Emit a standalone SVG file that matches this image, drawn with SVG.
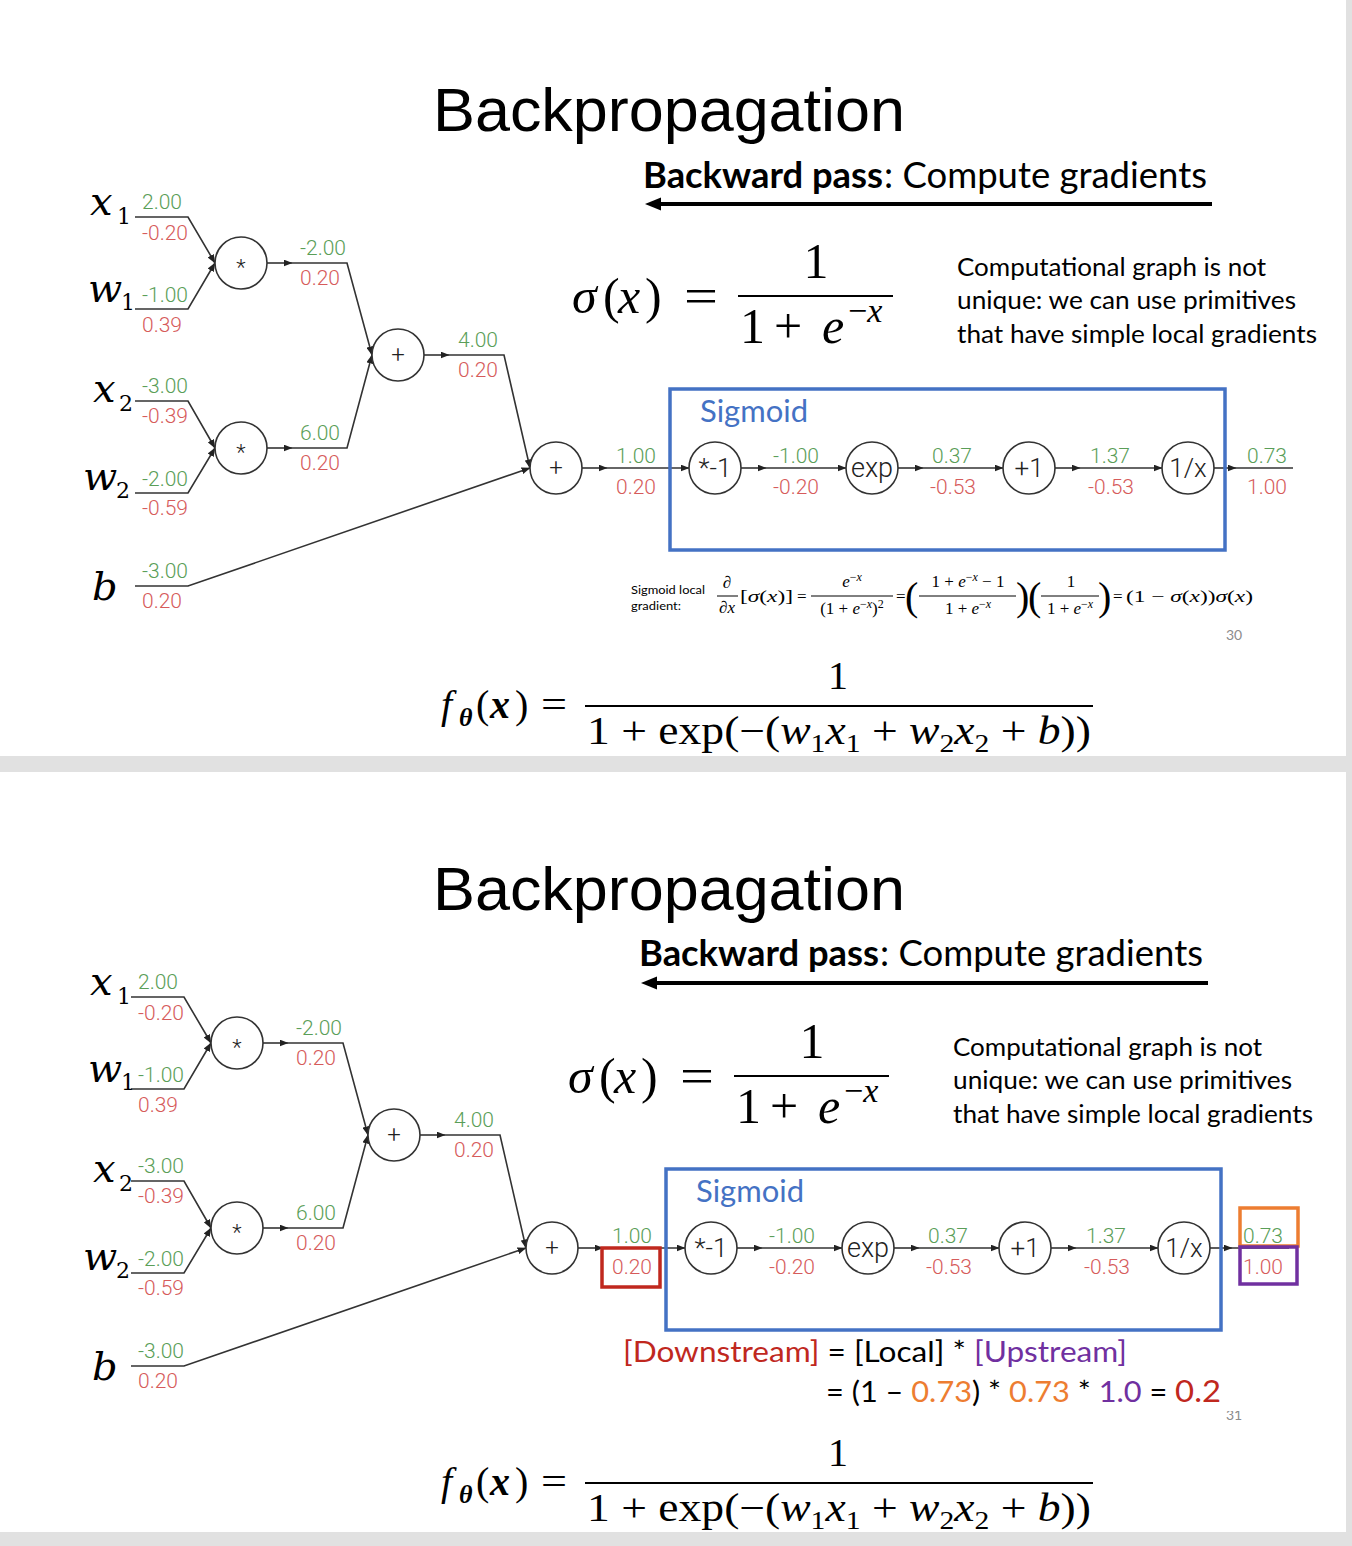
<svg xmlns="http://www.w3.org/2000/svg" width="1352" height="1546" viewBox="0 0 1352 1546">
<defs>
<style>
.edge{fill:none;stroke:#333;stroke-width:1.6}
.nc{fill:#fff;stroke:#333;stroke-width:1.6}
.nl{font-family:Roboto,"Liberation Sans",sans-serif;font-weight:300;fill:#222;text-anchor:middle}
.val{font-family:Roboto,"Liberation Sans",sans-serif;font-weight:300;font-size:21px}
.gr{fill:#5a9e58}
.rd{fill:#d65b5b}
.var{font-family:"DejaVu Serif",serif;font-style:italic;font-size:40px;fill:#000}
.sub{font-family:"DejaVu Serif",serif;font-style:normal;font-size:22px;fill:#000}
.title{font-family:"Liberation Sans",Arial,sans-serif;font-size:62px;fill:#000}
.cal{font-family:Lato,"Open Sans",sans-serif;fill:#000}
.cm{font-family:"Liberation Serif","DejaVu Serif",serif;fill:#000}
.it{font-style:italic}
.sig{fill:none;stroke:#4472c4;stroke-width:3.5}
.fr{stroke:#000;stroke-width:2}
.frs{stroke:#000;stroke-width:1}
</style>
<marker id="ah" markerUnits="userSpaceOnUse" markerWidth="9" markerHeight="7" refX="8.5" refY="3.5" orient="auto"><path d="M0,0 L9,3.5 L0,7 z" fill="#222"/></marker>
<clipPath id="clip31"><rect x="1215" y="1411" width="40" height="10"/></clipPath>
</defs>

<!-- background -->
<rect x="0" y="0" width="1352" height="1546" fill="#fff"/>
<rect x="1346" y="0" width="6" height="1546" fill="#e1e1e1"/>
<rect x="0" y="756" width="1352" height="16" fill="#e1e1e1"/>
<rect x="0" y="1532" width="1352" height="14" fill="#e1e1e1"/>

<!-- ================= TOP PANEL ================= -->
<g id="top-panel">
<text class="title" x="433" y="131" textLength="472" lengthAdjust="spacingAndGlyphs">Backpropagation</text>
<g id="t-backward">
<text class="cal" x="643" y="188" font-size="36" font-weight="bold" textLength="240" lengthAdjust="spacingAndGlyphs">Backward pass</text>
<text class="cal" x="884" y="188" font-size="36" textLength="323" lengthAdjust="spacingAndGlyphs">: Compute gradients</text>
<line x1="656" y1="204" x2="1212" y2="204" stroke="#000" stroke-width="4"/>
<path d="M645 204 L661 197.5 L661 210.5 Z" fill="#000"/>
</g>
<g id="t-sigma">
<text class="cm" y="313" font-size="50"><tspan x="572" class="it">σ</tspan><tspan x="603">(</tspan><tspan x="618" class="it">x</tspan><tspan x="645">)</tspan></text>
<text class="cm" x="684" y="313" font-size="50" textLength="34" lengthAdjust="spacingAndGlyphs">=</text>
<text class="cm" x="816" y="278" font-size="50" text-anchor="middle">1</text>
<line class="fr" x1="738" y1="296" x2="893" y2="296"/>
<text class="cm" y="343" font-size="50"><tspan x="740">1</tspan><tspan x="774">+</tspan><tspan x="822" class="it">e</tspan><tspan x="848" y="322" font-size="34">−</tspan><tspan class="it" font-size="34" y="322">x</tspan></text>
</g>
<g id="t-note" class="cal" font-size="25">
<text x="957" y="276" textLength="309" lengthAdjust="spacingAndGlyphs">Computational graph is not</text>
<text x="957" y="309" textLength="339" lengthAdjust="spacingAndGlyphs">unique: we can use primitives</text>
<text x="957" y="343" textLength="360" lengthAdjust="spacingAndGlyphs">that have simple local gradients</text>
</g>

<g id="t-labels">
<text class="var" x="90" y="215">x</text><text class="sub" x="117" y="224">1</text>
<text class="var" x="88" y="302">w</text><text class="sub" x="121" y="310">1</text>
<text class="var" x="93" y="402">x</text><text class="sub" x="119" y="411">2</text>
<text class="var" x="83" y="490">w</text><text class="sub" x="116" y="498">2</text>
<text class="var" x="92" y="600">b</text>
</g>

<g id="t-connectors">
<path class="edge" d="M135 217H188L215 263" marker-end="url(#ah)"/>
<path class="edge" d="M135 309H188L215 263" marker-end="url(#ah)"/>
<path class="edge" d="M267 263H292" marker-end="url(#ah)"/>
<path class="edge" d="M292 263H347L372 355" marker-end="url(#ah)"/>
<path class="edge" d="M135 401H188L215 448" marker-end="url(#ah)"/>
<path class="edge" d="M135 493H188L215 448" marker-end="url(#ah)"/>
<path class="edge" d="M267 448H292" marker-end="url(#ah)"/>
<path class="edge" d="M292 448H347L372 355" marker-end="url(#ah)"/>
<path class="edge" d="M424 355H449" marker-end="url(#ah)"/>
<path class="edge" d="M449 355H504L530 468" marker-end="url(#ah)"/>
<path class="edge" d="M135 586H188L530 468" marker-end="url(#ah)"/>
<path class="edge" d="M582 468H607" marker-end="url(#ah)"/>
<path class="edge" d="M607 468H689" marker-end="url(#ah)"/>
<path class="edge" d="M741 468H766" marker-end="url(#ah)"/>
<path class="edge" d="M766 468H846" marker-end="url(#ah)"/>
<path class="edge" d="M898 468H923" marker-end="url(#ah)"/>
<path class="edge" d="M923 468H1003" marker-end="url(#ah)"/>
<path class="edge" d="M1055 468H1080" marker-end="url(#ah)"/>
<path class="edge" d="M1080 468H1162" marker-end="url(#ah)"/>
<path class="edge" d="M1214 468H1236" marker-end="url(#ah)"/>
<path class="edge" d="M1236 468H1293"/>
</g>

<g id="t-sigmoid-box">
<rect class="sig" x="670" y="389" width="555" height="161"/>
<text class="cal" x="700" y="422" font-size="30" style="fill:#4472c4" textLength="108" lengthAdjust="spacingAndGlyphs">Sigmoid</text>
</g>

<g id="t-mul1"><circle class="nc" cx="241" cy="263" r="26"/><text class="nl" x="241" y="275" font-size="22">*</text></g>
<g id="t-mul2"><circle class="nc" cx="241" cy="448" r="26"/><text class="nl" x="241" y="460" font-size="22">*</text></g>
<g id="t-add1"><circle class="nc" cx="398" cy="355" r="26"/><text class="nl" x="398" y="363" font-size="24">+</text></g>
<g id="t-add2"><circle class="nc" cx="556" cy="468" r="26"/><text class="nl" x="556" y="476" font-size="24">+</text></g>
<g id="t-neg"><circle class="nc" cx="715" cy="468" r="26"/><text class="nl" x="715" y="477" font-size="26">*-1</text></g>
<g id="t-exp"><circle class="nc" cx="872" cy="468" r="26"/><text class="nl" x="872" y="477" font-size="27">exp</text></g>
<g id="t-plus1"><circle class="nc" cx="1029" cy="468" r="26"/><text class="nl" x="1029" y="477" font-size="26">+1</text></g>
<g id="t-inv"><circle class="nc" cx="1188" cy="468" r="26"/><text class="nl" x="1188" y="477" font-size="26">1/x</text></g>

<g id="t-values" class="val">
<text class="gr" x="142" y="209">2.00</text><text class="rd" x="142" y="240">-0.20</text>
<text class="gr" x="142" y="302">-1.00</text><text class="rd" x="142" y="332">0.39</text>
<text class="gr" x="142" y="393">-3.00</text><text class="rd" x="142" y="423">-0.39</text>
<text class="gr" x="142" y="486">-2.00</text><text class="rd" x="142" y="515">-0.59</text>
<text class="gr" x="142" y="578">-3.00</text><text class="rd" x="142" y="608">0.20</text>
<text class="gr" x="300" y="255">-2.00</text><text class="rd" x="300" y="285">0.20</text>
<text class="gr" x="300" y="440">6.00</text><text class="rd" x="300" y="470">0.20</text>
<text class="gr" x="458" y="347">4.00</text><text class="rd" x="458" y="377">0.20</text>
<text class="gr" x="616" y="463">1.00</text><text class="rd" x="616" y="494">0.20</text>
<text class="gr" x="773" y="463">-1.00</text><text class="rd" x="773" y="494">-0.20</text>
<text class="gr" x="932" y="463">0.37</text><text class="rd" x="930" y="494">-0.53</text>
<text class="gr" x="1090" y="463">1.37</text><text class="rd" x="1088" y="494">-0.53</text>
<text class="gr" x="1247" y="463">0.73</text><text class="rd" x="1247" y="494">1.00</text>
</g>

<g id="t-local-gradient">
<text class="cal" x="631" y="594" font-size="12" textLength="74" lengthAdjust="spacingAndGlyphs">Sigmoid local</text>
<text class="cal" x="631" y="610" font-size="12" textLength="50" lengthAdjust="spacingAndGlyphs">gradient:</text>
<g class="cm" font-size="17">
<text x="727" y="588" text-anchor="middle" class="it">∂</text>
<line class="frs" x1="717" y1="596" x2="738" y2="596"/>
<text x="727" y="613" text-anchor="middle" class="it">∂x</text>
<text x="740" y="602" textLength="53" lengthAdjust="spacingAndGlyphs">[<tspan class="it">σ</tspan>(<tspan class="it">x</tspan>)]</text>
<text x="797" y="602">=</text>
<text x="852" y="587" text-anchor="middle"><tspan class="it">e</tspan><tspan dy="-6" font-size="12">−</tspan><tspan class="it" font-size="12">x</tspan></text>
<line class="frs" x1="811" y1="596" x2="893" y2="596"/>
<text x="852" y="614" text-anchor="middle">(1 + <tspan class="it">e</tspan><tspan dy="-6" font-size="12">−</tspan><tspan class="it" font-size="12">x</tspan><tspan dy="6">)</tspan><tspan dy="-6" font-size="12">2</tspan></text>
<text x="896" y="602">=</text>
<text x="905" y="610" font-size="40">(</text>
<text x="968" y="587" text-anchor="middle">1 + <tspan class="it">e</tspan><tspan dy="-6" font-size="12">−</tspan><tspan class="it" font-size="12">x</tspan><tspan dy="6"> − 1</tspan></text>
<line class="frs" x1="919" y1="596" x2="1016" y2="596"/>
<text x="968" y="614" text-anchor="middle">1 + <tspan class="it">e</tspan><tspan dy="-6" font-size="12">−</tspan><tspan class="it" font-size="12">x</tspan></text>
<text x="1016" y="610" font-size="40">)</text>
<text x="1028" y="610" font-size="40">(</text>
<text x="1071" y="587" text-anchor="middle">1</text>
<line class="frs" x1="1041" y1="596" x2="1099" y2="596"/>
<text x="1070" y="614" text-anchor="middle">1 + <tspan class="it">e</tspan><tspan dy="-6" font-size="12">−</tspan><tspan class="it" font-size="12">x</tspan></text>
<text x="1098" y="610" font-size="40">)</text>
<text x="1113" y="602">=</text>
<text x="1126" y="602" textLength="127" lengthAdjust="spacingAndGlyphs">(1 − <tspan class="it">σ</tspan>(<tspan class="it">x</tspan>))<tspan class="it">σ</tspan>(<tspan class="it">x</tspan>)</text>
</g>
</g>
<text class="cal" x="1226" y="640" font-size="14" style="fill:#8c8c8c">30</text>

<g id="t-formula" class="cm" font-size="40">
<text y="718"><tspan x="441" class="it">f</tspan><tspan x="459" y="726" font-size="26" font-weight="bold" class="it">θ</tspan><tspan x="476" y="718">(</tspan><tspan x="490" font-weight="bold" class="it">x</tspan><tspan x="515">)</tspan></text>
<text x="541" y="718" textLength="26" lengthAdjust="spacingAndGlyphs">=</text>
<text x="838" y="689" text-anchor="middle">1</text>
<line class="fr" x1="585" y1="706" x2="1093" y2="706"/>
<text x="587" y="744" textLength="504" lengthAdjust="spacingAndGlyphs">1 + exp(−(<tspan class="it">w</tspan><tspan dy="8" font-size="26">1</tspan><tspan dy="-8" class="it">x</tspan><tspan dy="8" font-size="26">1</tspan><tspan dy="-8"> + </tspan><tspan class="it">w</tspan><tspan dy="8" font-size="26">2</tspan><tspan dy="-8" class="it">x</tspan><tspan dy="8" font-size="26">2</tspan><tspan dy="-8"> + </tspan><tspan class="it">b</tspan>))</text>
</g>
</g>

<!-- ================= BOTTOM PANEL ================= -->
<g id="bottom-panel">
<text class="title" x="433" y="910" textLength="472" lengthAdjust="spacingAndGlyphs">Backpropagation</text>
<g transform="translate(-4,780)">
<g id="b-backward">
<text class="cal" x="643" y="186" font-size="36" font-weight="bold" textLength="240" lengthAdjust="spacingAndGlyphs">Backward pass</text>
<text class="cal" x="884" y="186" font-size="36" textLength="323" lengthAdjust="spacingAndGlyphs">: Compute gradients</text>
<line x1="656" y1="203" x2="1212" y2="203" stroke="#000" stroke-width="4"/>
<path d="M645 203 L661 196.5 L661 209.5 Z" fill="#000"/>
</g>
<g id="b-sigma">
<text class="cm" y="313" font-size="50"><tspan x="572" class="it">σ</tspan><tspan x="603">(</tspan><tspan x="618" class="it">x</tspan><tspan x="645">)</tspan></text>
<text class="cm" x="684" y="313" font-size="50" textLength="34" lengthAdjust="spacingAndGlyphs">=</text>
<text class="cm" x="816" y="278" font-size="50" text-anchor="middle">1</text>
<line class="fr" x1="738" y1="296" x2="893" y2="296"/>
<text class="cm" y="343" font-size="50"><tspan x="740">1</tspan><tspan x="774">+</tspan><tspan x="822" class="it">e</tspan><tspan x="848" y="322" font-size="34">−</tspan><tspan class="it" font-size="34" y="322">x</tspan></text>
</g>
<g id="b-note" class="cal" font-size="25">
<text x="957" y="276" textLength="309" lengthAdjust="spacingAndGlyphs">Computational graph is not</text>
<text x="957" y="309" textLength="339" lengthAdjust="spacingAndGlyphs">unique: we can use primitives</text>
<text x="957" y="343" textLength="360" lengthAdjust="spacingAndGlyphs">that have simple local gradients</text>
</g>

<g id="b-connectors">
<path class="edge" d="M135 217H188L215 263" marker-end="url(#ah)"/>
<path class="edge" d="M135 309H188L215 263" marker-end="url(#ah)"/>
<path class="edge" d="M267 263H292" marker-end="url(#ah)"/>
<path class="edge" d="M292 263H347L372 355" marker-end="url(#ah)"/>
<path class="edge" d="M135 401H188L215 448" marker-end="url(#ah)"/>
<path class="edge" d="M135 493H188L215 448" marker-end="url(#ah)"/>
<path class="edge" d="M267 448H292" marker-end="url(#ah)"/>
<path class="edge" d="M292 448H347L372 355" marker-end="url(#ah)"/>
<path class="edge" d="M424 355H449" marker-end="url(#ah)"/>
<path class="edge" d="M449 355H504L530 468" marker-end="url(#ah)"/>
<path class="edge" d="M135 586H188L530 468" marker-end="url(#ah)"/>
<path class="edge" d="M582 468H607" marker-end="url(#ah)"/>
<path class="edge" d="M607 468H689" marker-end="url(#ah)"/>
<path class="edge" d="M741 468H766" marker-end="url(#ah)"/>
<path class="edge" d="M766 468H846" marker-end="url(#ah)"/>
<path class="edge" d="M898 468H923" marker-end="url(#ah)"/>
<path class="edge" d="M923 468H1003" marker-end="url(#ah)"/>
<path class="edge" d="M1055 468H1080" marker-end="url(#ah)"/>
<path class="edge" d="M1080 468H1162" marker-end="url(#ah)"/>
<path class="edge" d="M1214 468H1236" marker-end="url(#ah)"/>
<path class="edge" d="M1236 468H1293"/>
</g>

<g id="b-sigmoid-box">
<rect class="sig" x="670" y="389" width="555" height="161"/>
<text class="cal" x="700" y="422" font-size="30" style="fill:#4472c4" textLength="108" lengthAdjust="spacingAndGlyphs">Sigmoid</text>
</g>

<g id="b-mul1"><circle class="nc" cx="241" cy="263" r="26"/><text class="nl" x="241" y="275" font-size="22">*</text></g>
<g id="b-mul2"><circle class="nc" cx="241" cy="448" r="26"/><text class="nl" x="241" y="460" font-size="22">*</text></g>
<g id="b-add1"><circle class="nc" cx="398" cy="355" r="26"/><text class="nl" x="398" y="363" font-size="24">+</text></g>
<g id="b-add2"><circle class="nc" cx="556" cy="468" r="26"/><text class="nl" x="556" y="476" font-size="24">+</text></g>
<g id="b-neg"><circle class="nc" cx="715" cy="468" r="26"/><text class="nl" x="715" y="477" font-size="26">*-1</text></g>
<g id="b-exp"><circle class="nc" cx="872" cy="468" r="26"/><text class="nl" x="872" y="477" font-size="27">exp</text></g>
<g id="b-plus1"><circle class="nc" cx="1029" cy="468" r="26"/><text class="nl" x="1029" y="477" font-size="26">+1</text></g>
<g id="b-inv"><circle class="nc" cx="1188" cy="468" r="26"/><text class="nl" x="1188" y="477" font-size="26">1/x</text></g>

<g id="b-values" class="val">
<text class="gr" x="142" y="209">2.00</text><text class="rd" x="142" y="240">-0.20</text>
<text class="gr" x="142" y="302">-1.00</text><text class="rd" x="142" y="332">0.39</text>
<text class="gr" x="142" y="393">-3.00</text><text class="rd" x="142" y="423">-0.39</text>
<text class="gr" x="142" y="486">-2.00</text><text class="rd" x="142" y="515">-0.59</text>
<text class="gr" x="142" y="578">-3.00</text><text class="rd" x="142" y="608">0.20</text>
<text class="gr" x="300" y="255">-2.00</text><text class="rd" x="300" y="285">0.20</text>
<text class="gr" x="300" y="440">6.00</text><text class="rd" x="300" y="470">0.20</text>
<text class="gr" x="458" y="347">4.00</text><text class="rd" x="458" y="377">0.20</text>
<text class="gr" x="616" y="463">1.00</text><text class="rd" x="616" y="494">0.20</text>
<text class="gr" x="773" y="463">-1.00</text><text class="rd" x="773" y="494">-0.20</text>
<text class="gr" x="932" y="463">0.37</text><text class="rd" x="930" y="494">-0.53</text>
<text class="gr" x="1090" y="463">1.37</text><text class="rd" x="1088" y="494">-0.53</text>
<text class="gr" x="1247" y="463">0.73</text><text class="rd" x="1247" y="494">1.00</text>
</g>
</g>

<g id="b-labels" transform="translate(0,780)">
<text class="var" x="90" y="215">x</text><text class="sub" x="117" y="224">1</text>
<text class="var" x="88" y="302">w</text><text class="sub" x="121" y="310">1</text>
<text class="var" x="93" y="402">x</text><text class="sub" x="119" y="411">2</text>
<text class="var" x="83" y="490">w</text><text class="sub" x="116" y="498">2</text>
<text class="var" x="92" y="600">b</text>
</g>

<g id="b-highlights" fill="none" stroke-width="3.5">
<rect x="602" y="1248" width="58" height="39" stroke="#c0281e"/>
<rect x="1240" y="1208" width="58" height="38" stroke="#ed7d31"/>
<rect x="1240" y="1247" width="57" height="37" stroke="#7030a0"/>
</g>

<g id="b-rule" class="cal" font-size="29">
<text x="623" y="1362" textLength="504" lengthAdjust="spacingAndGlyphs"><tspan style="fill:#c0281e">[Downstream]</tspan> = [Local] * <tspan style="fill:#7030a0">[Upstream]</tspan></text>
<text x="826" y="1402" textLength="395" lengthAdjust="spacingAndGlyphs">= (1 – <tspan style="fill:#ed7d31">0.73</tspan>) * <tspan style="fill:#ed7d31">0.73</tspan> * <tspan style="fill:#7030a0">1.0</tspan> = <tspan style="fill:#c0281e" font-size="31">0.2</tspan></text>
</g>
<text class="cal" x="1226" y="1420" font-size="14" clip-path="url(#clip31)" style="fill:#8c8c8c">31</text>

<g id="b-formula" class="cm" font-size="40" transform="translate(0,777)">
<text y="718"><tspan x="441" class="it">f</tspan><tspan x="459" y="726" font-size="26" font-weight="bold" class="it">θ</tspan><tspan x="476" y="718">(</tspan><tspan x="490" font-weight="bold" class="it">x</tspan><tspan x="515">)</tspan></text>
<text x="541" y="718" textLength="26" lengthAdjust="spacingAndGlyphs">=</text>
<text x="838" y="689" text-anchor="middle">1</text>
<line class="fr" x1="585" y1="706" x2="1093" y2="706"/>
<text x="587" y="744" textLength="504" lengthAdjust="spacingAndGlyphs">1 + exp(−(<tspan class="it">w</tspan><tspan dy="8" font-size="26">1</tspan><tspan dy="-8" class="it">x</tspan><tspan dy="8" font-size="26">1</tspan><tspan dy="-8"> + </tspan><tspan class="it">w</tspan><tspan dy="8" font-size="26">2</tspan><tspan dy="-8" class="it">x</tspan><tspan dy="8" font-size="26">2</tspan><tspan dy="-8"> + </tspan><tspan class="it">b</tspan>))</text>
</g>
</g>
</svg>
